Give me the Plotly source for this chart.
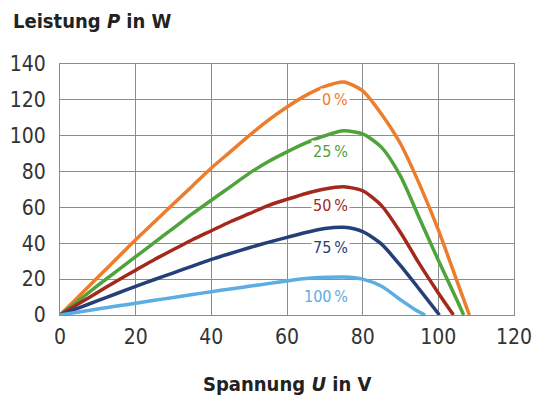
import plotly.graph_objects as go

# Kennlinien bei verschiedener Abschattung (Spannung U in V, Leistung P in W)
u_0 = [0, 5, 10, 15, 20, 25, 30, 35, 40, 45, 50, 55, 60, 65, 70, 75, 80, 85, 90, 95, 100, 105, 108.2]
p_0 = [0, 10.5, 21, 31.5, 42, 52, 62, 72, 82, 91, 100, 108.5, 116, 122.5, 127.5, 130, 125, 112, 95.5, 73, 47.5, 18.5, 0]

u_25 = [0, 5, 10, 15, 20, 25, 30, 35, 40, 45, 50, 55, 60, 65, 70, 75, 80, 85, 90, 95, 100, 105, 106.7]
p_25 = [0, 8.2, 16.5, 24.5, 32.5, 40.5, 48.5, 56.5, 64, 71.5, 79, 85.5, 91, 96, 100, 102.7, 101, 93.5, 77.5, 54, 30.5, 8, 0]

u_50 = [0, 5, 10, 15, 20, 25, 30, 35, 40, 45, 50, 55, 60, 65, 70, 75, 80, 85, 90, 95, 100, 104]
p_50 = [0, 6.4, 12.7, 19, 25, 31, 36.5, 42, 47, 52, 56.5, 61, 64.5, 67.8, 70.3, 71.5, 69.3, 61, 46, 28.5, 12.3, 0]

u_75 = [0, 5, 10, 15, 20, 25, 30, 35, 40, 45, 50, 55, 60, 65, 70, 75, 80, 85, 90, 95, 100.3]
p_75 = [0, 4, 8, 12, 16, 19.8, 23.5, 27.3, 31, 34.3, 37.5, 40.5, 43.3, 46, 48.2, 48.9, 46.5, 39.5, 27.5, 14.3, 0]

u_100 = [0, 5, 10, 15, 20, 25, 30, 35, 40, 45, 50, 55, 60, 65, 70, 75, 80, 85, 90, 94, 96.5]
p_100 = [0, 1.7, 3.3, 5, 6.5, 8.2, 9.8, 11.4, 13, 14.5, 16, 17.5, 19, 20.3, 21, 21.2, 20, 16, 8.5, 2.8, 0]

labels = ["0\u2009%", "25\u2009%", "50\u2009%", "75\u2009%", "100\u2009%"]
label_u = [72.8, 71.4, 71.4, 71.4, 70.4]
label_p = [120, 91, 61.3, 37.7, 10.2]
colors = ["#EC7D2C", "#4EA33B", "#A3291C", "#253F78", "#5BADE2"]

series = [(u_0, p_0), (u_25, p_25), (u_50, p_50), (u_75, p_75), (u_100, p_100)]

condensed = "DejaVu Sans Condensed, Liberation Sans Narrow, Arial Narrow"

fig = go.Figure()
for (u, p), c, name in zip(series, colors, labels):
    fig.add_trace(go.Scatter(x=u, y=p, mode="lines", name=name,
                             line=dict(color=c, width=3.5, shape="spline", smoothing=0.7)))

for text, x, y, c in zip(labels, label_u, label_p, colors):
    fig.add_annotation(x=x, y=y, text=text, showarrow=False, bgcolor="white",
                       font=dict(family=condensed, size=16, color=c),
                       borderpad=1)

fig.add_annotation(xref="paper", yref="paper", x=0, y=1, xanchor="left", yanchor="bottom",
                   xshift=-49, yshift=29, showarrow=False,
                   text="<b>Leistung <i>P</i> in W</b>",
                   font=dict(family=condensed, size=20, color="#222222"))
fig.add_annotation(xref="paper", yref="paper", x=0.5, y=0, xanchor="center", yanchor="top",
                   yshift=-55, showarrow=False,
                   text="<b>Spannung <i>U</i> in V</b>",
                   font=dict(family=condensed, size=20, color="#222222"))

axis_style = dict(showgrid=True, gridcolor="#8c8c8c", gridwidth=1,
                  showline=True, linecolor="#8c8c8c", linewidth=1, mirror=True,
                  zeroline=False, ticks="outside", tickcolor="white", automargin=False,
                  tickfont=dict(family=condensed, size=21, color="#333333"))

fig.update_xaxes(range=[0, 120], dtick=20, ticklen=3, **axis_style)
fig.update_yaxes(range=[0, 140], dtick=20, ticklen=9, **axis_style)

# the page body adds an 8px offset, so the margins are shifted to compensate
fig.update_layout(width=543, height=395, showlegend=False,
                  margin=dict(l=52, r=37, t=56, b=88),
                  plot_bgcolor="white", paper_bgcolor="white")

fig.write_html("out.html")
